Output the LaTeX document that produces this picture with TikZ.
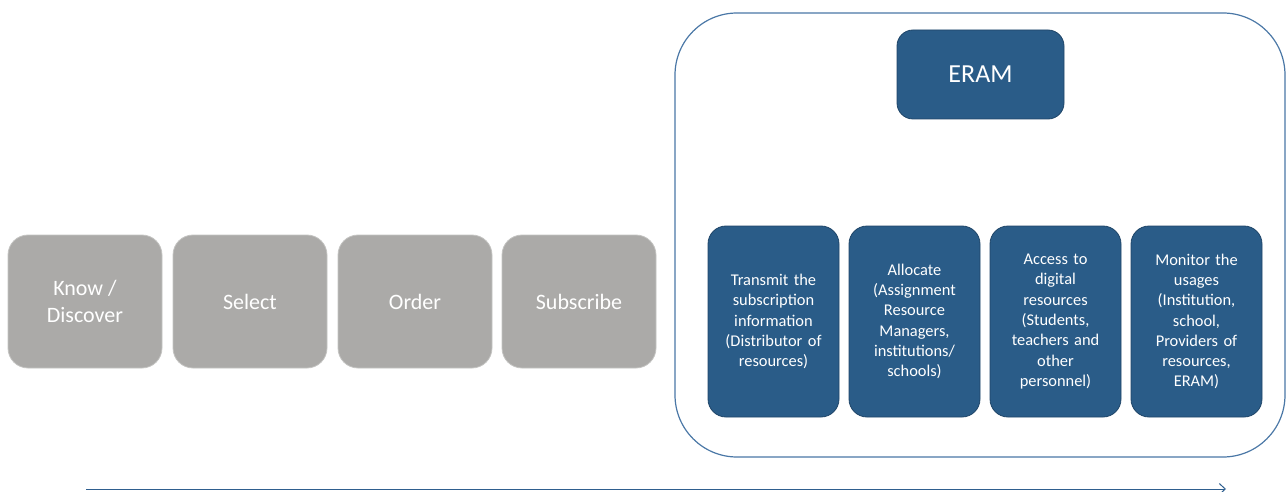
\documentclass[tikz,border=0pt]{standalone}
\usepackage{fontspec}
\setmainfont{Carlito}
\usetikzlibrary{arrows.meta}
\definecolor{grayfill}{HTML}{ABAAA8}
\definecolor{grayedge}{HTML}{C4C4C2}
\definecolor{bluefill}{HTML}{2A5C88}
\definecolor{blueedge}{HTML}{1F4568}
\definecolor{frameblue}{HTML}{4A77A6}
\definecolor{arrowblue}{HTML}{2F5F8F}
\tikzset{
  graybox/.style={draw=grayedge, line width=0.8pt, fill=grayfill, rounded corners=20pt,
    minimum width=154pt, minimum height=133pt, text=white, align=center,
    font=\fontsize{22}{27}\selectfont, inner sep=0pt},
  bluebox/.style={draw=blueedge, line width=0.8pt, fill=bluefill, rounded corners=18pt,
    minimum width=131pt, minimum height=191pt, text=white, align=center, text width=128pt,
    font=\fontsize{16.4}{20.3}\selectfont, inner sep=0pt},
  erambox/.style={draw=blueedge, line width=0.8pt, fill=bluefill, rounded corners=16pt,
    minimum width=167pt, minimum height=89pt, text=white,
    font=\fontsize{26}{30}\selectfont, inner sep=0pt},
  frame/.style={draw=frameblue, line width=1.2pt, rounded corners=62pt},
  timeline/.style={draw=arrowblue, line width=1pt, -{Straight Barb[length=6pt,width=11pt]}}
}
\begin{document}
\begin{tikzpicture}[x=1pt,y=-1pt]
\useasboundingbox (0,0) rectangle (1286,492);
% container
\draw[frame] (675,13) rectangle (1285,457);
% gray steps
\node[graybox] (know) at (85,301.5) {Know /\\Discover};
\node[graybox] (select) at (250,301.5) {Select};
\node[graybox] (order) at (415,301.5) {Order};
\node[graybox] (subscribe) at (579,301.5) {Subscribe};
% ERAM
\node[erambox] (eram) at (980.5,74.5) {ERAM};
% blue steps
\node[bluebox] (transmit) at (773.5,321.5) {Transmit the\\subscription\\information\\(Distributor of\\resources)};
\node[bluebox] (allocate) at (914.5,321.5) {Allocate\\(Assignment\\Resource\\Managers,\\institutions/\\schools)};
\node[bluebox] (access) at (1055.5,321.5) {Access to\\digital\\resources\\(Students,\\teachers and\\other\\personnel)};
\node[bluebox] (monitor) at (1196.5,321.5) {Monitor the\\usages\\(Institution,\\school,\\Providers of\\resources,\\ERAM)};
% timeline arrow
\coordinate (tstart) at (86,489);
\coordinate (tend) at (1226,489);
\draw[timeline] (tstart) -- (tend);
\end{tikzpicture}
\end{document}
